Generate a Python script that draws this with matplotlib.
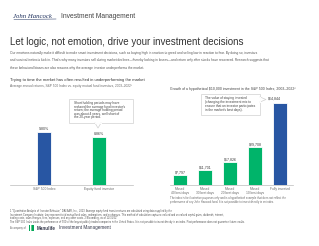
import numpy as np
import matplotlib.pyplot as plt
from matplotlib.patches import Rectangle

W, H = 319, 246

# left chart: average annual returns (%)
left_cats = ["S&P 500 Index", "Equity fund investor"]
left_vals = [9.80, 8.86]
left_labels = ["9.80%", "8.86%"]

# right chart: growth of $10,000
right_cats = ["Missed\n40 best days", "Missed\n30 best days", "Missed\n20 best days",
              "Missed\n10 best days", "Fully invested"]
right_vals = [7797, 11701, 17826, 29708, 64844]
right_labels = ["$7,797", "$11,701", "$17,826", "$29,708", "$64,844"]

BLUE = "#2856a3"
GREEN = "#00b46a"
DARK = "#3b3b3b"
GRAY = "#6a6a6a"

plt.rcParams['font.family'] = ['Liberation Sans', 'DejaVu Sans']

fig = plt.figure(figsize=(W / 100, H / 100), dpi=100)
fig.patch.set_facecolor("white")


def T(x, y, s, size, color=DARK, ha="left", va="center", **kw):
    return fig.text(x / W, 1 - y / H, s, fontsize=size, color=color, ha=ha, va=va, **kw)


def box(x0, y0, x1, y1, **kw):
    fig.patches.append(Rectangle((x0 / W, 1 - y1 / H), (x1 - x0) / W, (y1 - y0) / H,
                                 transform=fig.transFigure, **kw))


def line(xs, ys, **kw):
    fig.add_artist(plt.Line2D([x / W for x in xs], [1 - y / H for y in ys],
                              transform=fig.transFigure, **kw))


# header
T(13, 17, "John Hancock", 4.9, color="#1d2f5c", family="Liberation Serif", style="italic")
line([14, 56], [19.5, 19.0], color="#1d2f5c", linewidth=0.35)
T(61, 17, "Investment Management", 4.9, color="#444444")
T(10, 42, "Let logic, not emotion, drive your investment decisions", 7.0, color="#333333")

para = [
    "Our emotions naturally make it difficult to make smart investment decisions, such as buying high in reaction to greed and selling low in reaction to fear. By doing so, investors",
    "and survival instincts kick in. That's why many investors sell during market declines\u2014thereby locking in losses\u2014and return only after stocks have recovered. Research suggests that",
    "these behavioral biases are also reasons why the average investor underperforms the market.",
]
for i, s in enumerate(para):
    T(10, 53 + i * 7.5, s, 2.3, color="#555555")

# left section
T(10, 80, "Trying to time the market has often resulted in underperforming the market", 3.0, color="#333333")
T(10, 86, "Average annual returns, S&P 500 Index vs. equity mutual fund investors, 2003\u20132022\u00b9", 2.3, color=GRAY)

axl = fig.add_axes([10 / W, 1 - 185 / H, 123 / W, 60 / H])
xl = np.arange(len(left_vals))
axl.bar(xl, left_vals, width=0.25, color=[BLUE, GREEN], edgecolor="white", linewidth=0.6)
for xi, v, lab in zip(xl, left_vals, left_labels):
    axl.text(xi, v + 0.25, lab, ha="center", va="bottom", fontsize=2.6, color=DARK)
axl.set_xlim(-0.618, 1.618)
axl.set_ylim(0, 11.09)
axl.set_xticks(xl)
axl.set_xticklabels(left_cats, fontsize=2.4, color=GRAY)
axl.tick_params(axis="x", length=0, pad=1.5)
axl.set_yticks([])
for sp in ["top", "left", "right"]:
    axl.spines[sp].set_visible(False)
axl.spines["bottom"].set_color("#bbbbbb")
axl.spines["bottom"].set_linewidth(0.5)
axl.patch.set_alpha(0)

# left callout
box(69, 99, 133, 123, facecolor="white", edgecolor="#d0d0d0", linewidth=0.5)
line([95, 98, 101], [123, 128, 123], color="#d0d0d0", linewidth=0.5)
line([95.3, 100.7], [123, 123], color="white", linewidth=0.7)
for i, s in enumerate(["Short holding periods may have", "reduced the average fund investor's",
                       "return; the average holding period", "was about 4 years, well short of",
                       "the 20-year period."]):
    T(74, 103 + i * 3.6, s, 2.3, color="#444444")

# right section
T(170, 89, "Growth of a hypothetical $10,000 investment in the S&P 500 Index, 2003\u20132022\u00b2", 2.5, color="#444444")

axr = fig.add_axes([170 / W, 1 - 185 / H, 123 / W, 85 / H])
xr = np.arange(len(right_vals))
axr.bar(xr, right_vals, width=0.56, color=[GREEN] * 4 + [BLUE], edgecolor="white", linewidth=0.6)
for xi, v, lab in zip(xr[:-1], right_vals[:-1], right_labels[:-1]):
    axr.text(xi, v + 900, lab, ha="center", va="bottom", fontsize=2.6, color=DARK)
axr.set_xlim(-0.4, 4.52)
axr.set_ylim(0, 67216)
axr.set_xticks(xr)
axr.set_xticklabels(right_cats, fontsize=2.3, color=GRAY, linespacing=1.1)
axr.tick_params(axis="x", length=0, pad=1.5)
axr.set_yticks([])
for sp in ["top", "left", "right"]:
    axr.spines[sp].set_visible(False)
axr.spines["bottom"].set_color("#bbbbbb")
axr.spines["bottom"].set_linewidth(0.5)
axr.patch.set_alpha(0)
T(268, 99, right_labels[-1], 2.6, color=DARK)

# right callout
box(201, 94, 260, 115, facecolor="white", edgecolor="#d0d0d0", linewidth=0.5)
line([260, 266, 260], [97, 99.5, 102], color="#d0d0d0", linewidth=0.5)
line([260, 260], [97.3, 101.7], color="white", linewidth=0.7)
for i, s in enumerate(["The value of staying invested", "(changing the investment mix to",
                       "ensure that an investor participates", "in the market's best days)."]):
    T(205, 98.5 + i * 3.8, s, 2.3, color="#444444")

T(170, 198, "The index is for illustrative purposes only and is a hypothetical example that does not reflect the", 2.0, color=GRAY)
T(170, 201.5, "performance of any John Hancock fund. It is not possible to invest directly in an index.", 2.0, color=GRAY)

# footnotes
foot = [
    "1 \"Quantitative Analysis of Investor Behavior,\" DALBAR, Inc., 2023. Average equity fund investor returns are calculated using data supplied by the",
    "Investment Company Institute; they represent total mutual fund sales, redemptions, and exchanges. This method of calculation captures realized and unrealized capital gains, dividends, interest,",
    "trading costs, sales charges, fees, expenses, and any other costs. 2 Bloomberg, as of 12/31/22.",
    "The S&P 500 Index tracks the performance of 500 of the largest publicly traded companies in the United States. It is not possible to invest directly in an index. Past performance does not guarantee future results.",
]
for i, s in enumerate(foot):
    T(10, 211 + i * 3.6, s, 1.85, color="#555555")

# footer logo
T(10, 228, "A company of", 1.9, color=GRAY)
for i, c in enumerate(["#00a758", "#5fc98a", "#00a758"]):
    box(29 + i * 1.7, 225, 30.2 + i * 1.7, 231, facecolor=c, edgecolor="none")
T(37, 228, "Manulife", 3.3, color="#34384b", weight="bold")
T(59, 228, "Investment Management", 3.3, color="#34384b")

fig.savefig("out.png", dpi=100)
